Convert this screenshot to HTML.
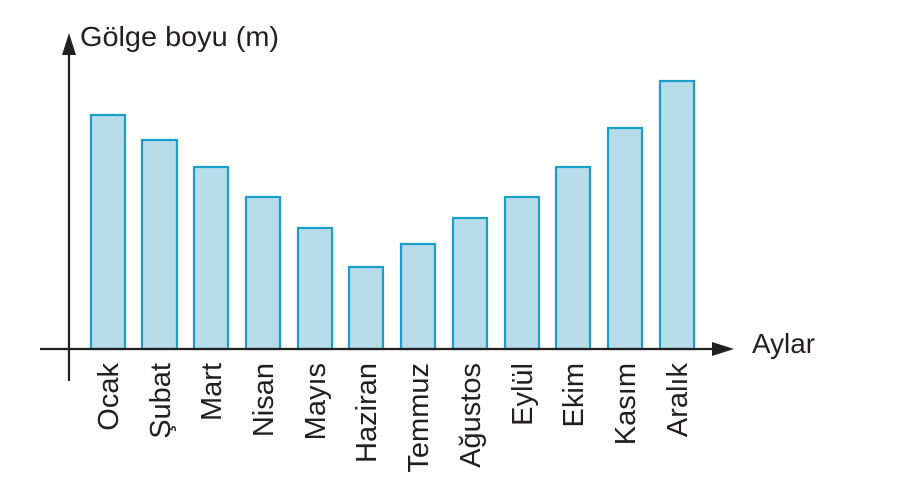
<!DOCTYPE html>
<html><head><meta charset="utf-8"><style>html,body{margin:0;padding:0;background:#fff}svg{display:block}</style></head>
<body>
<svg width="911" height="488" viewBox="0 0 911 488" xmlns="http://www.w3.org/2000/svg" font-family="Liberation Sans, Arial, sans-serif" fill="#231f20">
<g fill="#b8dcea" stroke="#1a9fc9" stroke-width="2.2">
<rect x="91" y="115" width="34" height="234"/>
<rect x="142" y="140" width="35" height="209"/>
<rect x="194" y="167" width="34" height="182"/>
<rect x="246" y="197" width="34" height="152"/>
<rect x="298" y="228" width="34" height="121"/>
<rect x="349" y="267" width="34" height="82"/>
<rect x="401" y="244" width="34" height="105"/>
<rect x="453" y="218" width="34" height="131"/>
<rect x="505" y="197" width="34" height="152"/>
<rect x="556" y="167" width="34" height="182"/>
<rect x="608" y="128" width="34" height="221"/>
<rect x="660" y="81" width="34" height="268"/>
</g>
<g stroke="#231f20" stroke-width="2.2">
<line x1="69" y1="52" x2="69" y2="381"/>
<line x1="40" y1="349" x2="718" y2="349"/>
</g>
<polygon points="69,33 62,55 76,55" fill="#231f20"/>
<polygon points="734,349 712,342 712,356" fill="#231f20"/>
<text x="80" y="46" font-size="27.5" textLength="199" lengthAdjust="spacingAndGlyphs">Gölge boyu (m)</text>
<text x="752" y="353" font-size="27.5" textLength="63" lengthAdjust="spacingAndGlyphs">Aylar</text>
<g font-size="29" text-anchor="end">
<text transform="translate(118,363) rotate(-90)">Ocak</text>
<text transform="translate(170,363) rotate(-90)">Şubat</text>
<text transform="translate(221,363) rotate(-90)">Mart</text>
<text transform="translate(273,363) rotate(-90)">Nisan</text>
<text transform="translate(325,363) rotate(-90)">Mayıs</text>
<text transform="translate(376,363) rotate(-90)">Haziran</text>
<text transform="translate(428,363) rotate(-90)">Temmuz</text>
<text transform="translate(480,363) rotate(-90)">Ağustos</text>
<text transform="translate(532,363) rotate(-90)">Eylül</text>
<text transform="translate(583,363) rotate(-90)">Ekim</text>
<text transform="translate(635,363) rotate(-90)">Kasım</text>
<text transform="translate(687,363) rotate(-90)">Aralık</text>
</g>
</svg>
</body></html>
